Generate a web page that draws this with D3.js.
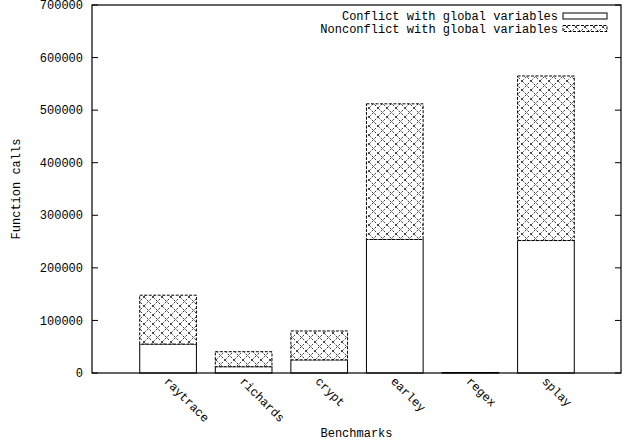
<!DOCTYPE html>
<html><head><meta charset="utf-8">
<script src="https://cdn.jsdelivr.net/npm/d3@7"></script>
<style>body{margin:0;background:#fff}text{font-family:"Liberation Mono","DejaVu Sans Mono",monospace;fill:#000}</style>
</head><body><svg id="c" width="624" height="444"></svg>
<script>
const categories = ["raytrace","richards","crypt","earley","regex","splay"];
const conflict = [55000, 12000, 25000, 254000, 600, 252000];
const nonconflict = [93000, 28500, 55000, 258000, 300, 313000];
const yTicks = [0,100000,200000,300000,400000,500000,600000,700000];
const seriesNames = ["Conflict with global variables","Nonconflict with global variables"];

const svg = d3.select("#c");
const L=92, R=621, T=5, B=373;
const x = d3.scaleLinear().domain([-1, categories.length]).range([L, R]);
const y = d3.scaleLinear().domain([0, 700000]).range([B, T]);
const bw = x(0.75) - x(0);

const defs = svg.append("defs");
const P = 9;
const pat = defs.append("pattern").attr("id","hatch").attr("patternUnits","userSpaceOnUse")
  .attr("width",P).attr("height",P);
pat.append("rect").attr("width",P).attr("height",P).attr("fill","#fff");
pat.append("path").attr("d",`M0,0L${P},${P}M0,${P}L${P},0`).attr("stroke","#111").attr("stroke-width",0.8)
  .attr("stroke-dasharray","2.4,1.4");

// y ticks & labels
const g = svg.append("g");
yTicks.forEach(t=>{
  g.append("line").attr("x1",L).attr("x2",L+6).attr("y1",y(t)).attr("y2",y(t)).attr("stroke","#000");
  g.append("line").attr("x1",R-6).attr("x2",R).attr("y1",y(t)).attr("y2",y(t)).attr("stroke","#000");
  g.append("text").attr("x",L-9).attr("y",y(t)).attr("dy","0.35em").attr("text-anchor","end")
    .attr("font-size",12).attr("fill","#333").text(t);
});

// bars
categories.forEach((c,i)=>{
  const x0 = x(i) - bw/2;
  svg.append("rect").attr("x",x0+0.5).attr("y",y(conflict[i])).attr("width",bw)
    .attr("height",y(0)-y(conflict[i])).attr("fill","#fff").attr("stroke","#000").attr("stroke-width",1);
  const top = conflict[i]+nonconflict[i];
  svg.append("rect").attr("x",x0+0.5).attr("y",y(top)).attr("width",bw)
    .attr("height",y(conflict[i])-y(top)).attr("fill","url(#hatch)").attr("stroke","#000")
    .attr("stroke-width",1).attr("stroke-dasharray","3,1.5");
  svg.append("text").attr("transform",`translate(${x(i)-4},${B+9}) rotate(45)`)
    .attr("font-size",12).attr("fill","#333").text(c);
});

// border
svg.append("rect").attr("x",L).attr("y",T).attr("width",R-L).attr("height",B-T)
  .attr("fill","none").attr("stroke","#000").attr("stroke-width",1.2);

// legend
const lg = svg.append("g");
seriesNames.forEach((n,i)=>{
  const cy = 16 + i*12.5;
  lg.append("text").attr("x",558).attr("y",cy).attr("dy","0.35em").attr("text-anchor","end")
    .attr("font-size",12).text(n);
  lg.append("rect").attr("x",563).attr("y",cy-3).attr("width",44).attr("height",6)
    .attr("fill", i===0?"#fff":"url(#hatch)").attr("stroke","#000")
    .attr("stroke-dasharray", i===0?null:"3,1.5");
});

// axis titles
svg.append("text").attr("x",(L+R)/2).attr("y",437).attr("text-anchor","middle").attr("font-size",12).attr("fill","#333").text("Benchmarks");
svg.append("text").attr("transform",`translate(20,${(T+B)/2}) rotate(-90)`).attr("text-anchor","middle").attr("font-size",12).attr("fill","#333").text("Function calls");
</script></body></html>
